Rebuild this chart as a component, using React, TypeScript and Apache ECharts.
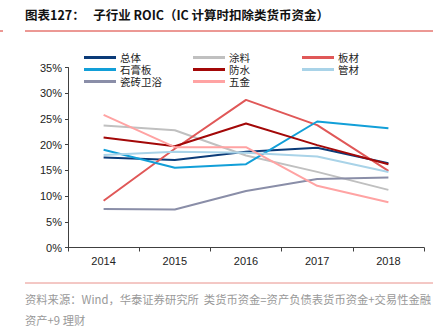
import React, { useEffect, useRef } from "react";
import * as echarts from "echarts";

const years = ["2014", "2015", "2016", "2017", "2018"];
const seriesNames = ["总体", "涂料", "板材", "石膏板", "防水", "管材", "瓷砖卫浴", "五金"];
const zongti = [17.5, 17.0, 18.6, 19.4, 16.4];
const tuliao = [23.7, 22.8, 17.9, 14.7, 11.2];
const bancai = [9.1, 19.2, 28.7, 23.8, 14.9];
const shigaoban = [19.0, 15.5, 16.2, 24.5, 23.2];
const fangshui = [21.4, 19.7, 24.1, 19.9, 16.2];
const guancai = [18.0, 18.6, 18.4, 17.7, 14.7];
const cizhuan = [7.5, 7.4, 11.0, 13.3, 13.6];
const wujin = [25.8, 19.5, 19.5, 12.0, 8.8];
const yTicks = [0, 5, 10, 15, 20, 25, 30, 35];

const colors = ["#0b3b78", "#c0c0c0", "#e05858", "#129fd8", "#a30808", "#a9d3e8", "#8a8ea8", "#ffa3a3"];
const allData = [zongti, tuliao, bancai, shigaoban, fangshui, guancai, cizhuan, wujin];

// legend grid: column index, row index for each series
const legendCol = [0, 1, 2, 0, 1, 2, 0, 1];
const legendRow = [0, 0, 0, 1, 1, 1, 2, 2];

export default function App() {
  const ref = useRef<HTMLDivElement>(null);
  useEffect(() => {
    const chart = echarts.init(ref.current!, null, { renderer: "svg" });
    const colX = [84, 193, 302];
    const rowY = [57.5, 69.5, 81.5];
    const legends = seriesNames.map((name, i) => ({
      data: [name],
      left: colX[legendCol[i]],
      top: rowY[legendRow[i]] - 5.5,
      itemWidth: 32,
      itemHeight: 3,
      icon: "rect",
      padding: 0,
      itemGap: 0,
      textStyle: {
        fontSize: 10.5,
        lineHeight: 11,
        color: "#222",
        fontFamily: "Liberation Sans, Noto Sans CJK SC",
        padding: [0, 0, 0, -1],
      },
    }));
    chart.setOption({
      animation: false,
      color: colors,
      textStyle: { fontFamily: "Liberation Sans, Arial, sans-serif" },
      legend: legends,
      grid: { left: 68, right: 20, top: 67.5, bottom: 79.5 },
      xAxis: {
        type: "category",
        data: years,
        boundaryGap: true,
        axisLine: { lineStyle: { color: "#404040", width: 1 } },
        axisTick: { show: true, length: 4, lineStyle: { color: "#404040" } },
        axisLabel: { fontSize: 11, color: "#222", margin: 8, fontFamily: "Liberation Sans, Arial, sans-serif" },
      },
      yAxis: {
        type: "value",
        min: 0,
        max: 35,
        interval: 5,
        splitLine: { show: false },
        axisLine: { show: true, lineStyle: { color: "#404040", width: 1 } },
        axisTick: { show: true, length: 3, lineStyle: { color: "#404040" } },
        axisLabel: {
          fontSize: 11,
          color: "#222",
          margin: 6,
          fontFamily: "Liberation Sans, Arial, sans-serif",
          formatter: (v: number) => (yTicks.includes(v) ? v + "%" : ""),
        },
      },
      series: seriesNames.map((name, i) => ({
        name,
        type: "line",
        data: allData[i],
        symbol: "none",
        lineStyle: { width: 2, color: colors[i] },
        itemStyle: { color: colors[i] },
      })),
      graphic: [
        {
          type: "text",
          left: 25,
          top: 8,
          style: {
            text: "图表127：   子行业 ROIC（IC 计算时扣除类货币资金）",
            fontSize: 12.5,
            fontWeight: "bold",
            fill: "#111",
            fontFamily: "Noto Sans CJK SC",
          },
        },
        { type: "line", shape: { x1: 25, y1: 31, x2: 433, y2: 31 }, style: { stroke: "#d9332b", lineWidth: 1 } },
        { type: "line", shape: { x1: 0, y1: 31, x2: 3, y2: 31 }, style: { stroke: "#d9332b", lineWidth: 1 } },
        { type: "line", shape: { x1: 25, y1: 283, x2: 433, y2: 283 }, style: { stroke: "#e8908a", lineWidth: 1 } },
        {
          type: "text",
          left: 25,
          top: 293,
          style: {
            text: "资料来源：Wind，华泰证券研究所  类货币资金=资产负债表货币资金+交易性金融",
            fontSize: 11.3,
            fill: "#999999",
            fontFamily: "Noto Sans CJK SC",
          },
        },
        {
          type: "text",
          left: 25,
          top: 314,
          style: {
            text: "资产+9 理财",
            fontSize: 11.3,
            fill: "#999999",
            fontFamily: "Noto Sans CJK SC",
          },
        },
      ],
    });
    return () => chart.dispose();
  }, []);
  return <div ref={ref} style={{ width: 444, height: 327, position: "absolute", left: 0, top: 0 }} />;
}
